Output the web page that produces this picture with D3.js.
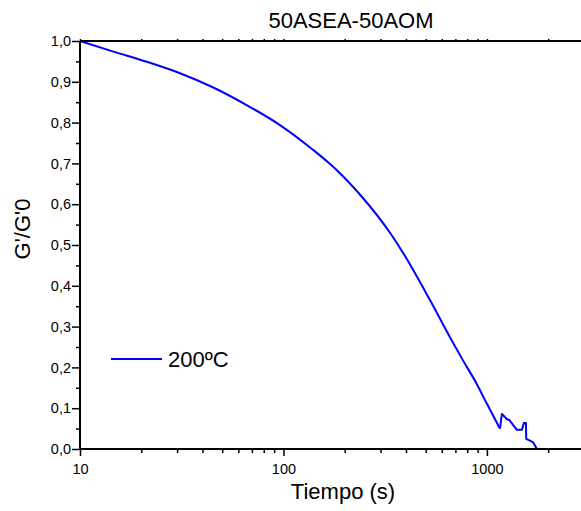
<!DOCTYPE html>
<html>
<head>
<meta charset="utf-8">
<script src="https://cdn.jsdelivr.net/npm/d3@7"></script>
<style>
  body { margin: 0; background: #fff; }
  svg { font-family: "Liberation Sans", Arial, sans-serif; }
</style>
</head>
<body>
<svg width="581" height="511"></svg>
<script>
// data
const tiempo = [10, 14.6, 21.3, 31, 45.2, 65.9, 96.1, 140, 169, 189.5, 247, 334, 388, 525, 658, 765, 890, 997, 1159, 1185, 1254, 1290, 1403, 1486, 1520, 1555, 1560, 1683, 1762];
const ratio  = [1.0, 0.974, 0.949, 0.921, 0.886, 0.843, 0.794, 0.733, 0.699, 0.676, 0.614, 0.530, 0.480, 0.365, 0.274, 0.216, 0.160, 0.112, 0.05, 0.086, 0.073, 0.071, 0.047, 0.047, 0.064, 0.064, 0.025, 0.017, 0.0];
const yTicks = [0, 0.1, 0.2, 0.3, 0.4, 0.5, 0.6, 0.7, 0.8, 0.9, 1.0];
const yMinor = [0.05, 0.15, 0.25, 0.35, 0.45, 0.55, 0.65, 0.75, 0.85, 0.95];
const xMajor = [10, 100, 1000];
const xMinor = [20, 30, 40, 50, 60, 70, 80, 90, 200, 300, 400, 500, 600, 700, 800, 900, 2000];
const serieName = "200ºC";
const chartTitle = "50ASEA-50AOM";

const svg = d3.select("svg");
const mLeft = 80, mRight = 584, mTop = 41, mBottom = 449;

const x = d3.scaleLog().domain([10, 3000]).range([mLeft, mRight]);
const y = d3.scaleLinear().domain([0, 1]).range([mBottom, mTop]);

const data = tiempo.map((t, i) => ({t: t, v: ratio[i]}));
const split = 18; // smooth decay up to here, noisy tail after

// curve: smooth part + noisy tail
svg.append("path")
    .datum(data.slice(0, split + 1))
    .attr("fill", "none")
    .attr("stroke", "#0000ff")
    .attr("stroke-width", 2)
    .attr("d", d3.line().curve(d3.curveMonotoneX).x(d => x(d.t)).y(d => y(d.v)));
svg.append("path")
    .datum(data.slice(split))
    .attr("fill", "none")
    .attr("stroke", "#0000ff")
    .attr("stroke-width", 2)
    .attr("stroke-linejoin", "round")
    .attr("d", d3.line().x(d => x(d.t)).y(d => y(d.v)));

// left axis
const fmt = d => d3.format(".1f")(d).replace(".", ",");
const gy = svg.append("g").attr("transform", "translate(" + mLeft + ",0)")
    .call(d3.axisLeft(y).tickValues(yTicks).tickFormat(fmt).tickSize(8).tickPadding(1));
gy.append("g").call(d3.axisLeft(y).tickValues(yMinor).tickFormat("").tickSize(4));

// bottom axis
const gx = svg.append("g").attr("transform", "translate(0," + mBottom + ")")
    .call(d3.axisBottom(x).tickValues(xMajor).tickFormat(d3.format("d")).tickSize(7).tickPadding(8));
gx.append("g").call(d3.axisBottom(x).tickValues(xMinor).tickFormat("").tickSize(4));

// top axis (no labels)
const gt = svg.append("g").attr("transform", "translate(0," + mTop + ")")
    .call(d3.axisTop(x).tickValues(xMajor.concat(xMinor)).tickFormat("").tickSize(2));

svg.selectAll(".domain").attr("stroke", "#000").attr("stroke-width", 1.8);
svg.selectAll(".tick line").attr("stroke", "#000").attr("stroke-width", 1.5);
svg.selectAll(".tick text").attr("font-size", 14.5).attr("fill", "#000")
    .attr("font-family", "'Liberation Sans', Arial, sans-serif");
gt.select(".domain").attr("d", "M" + mLeft + ",0H" + mRight);
gx.selectAll(".domain").attr("d", "M" + mLeft + ",0H" + mRight);
gy.selectAll(".domain").attr("d", "M0," + mTop + "V" + mBottom);

// titles
svg.append("text")
    .attr("x", 351).attr("y", 28)
    .attr("text-anchor", "middle")
    .attr("font-size", 22)
    .text(chartTitle);

svg.append("text")
    .attr("x", 343).attr("y", 499)
    .attr("text-anchor", "middle")
    .attr("font-size", 22)
    .text("Tiempo (s)");

svg.append("text")
    .attr("transform", "translate(30,229) rotate(-90)")
    .attr("text-anchor", "middle")
    .attr("font-size", 22)
    .text("G'/G'0");

// legend
svg.append("line")
    .attr("x1", 111).attr("x2", 162).attr("y1", 359).attr("y2", 359)
    .attr("stroke", "#0000ff").attr("stroke-width", 2);
svg.append("text")
    .attr("x", 168).attr("y", 367)
    .attr("font-size", 22)
    .text(serieName);
</script>
</body>
</html>
